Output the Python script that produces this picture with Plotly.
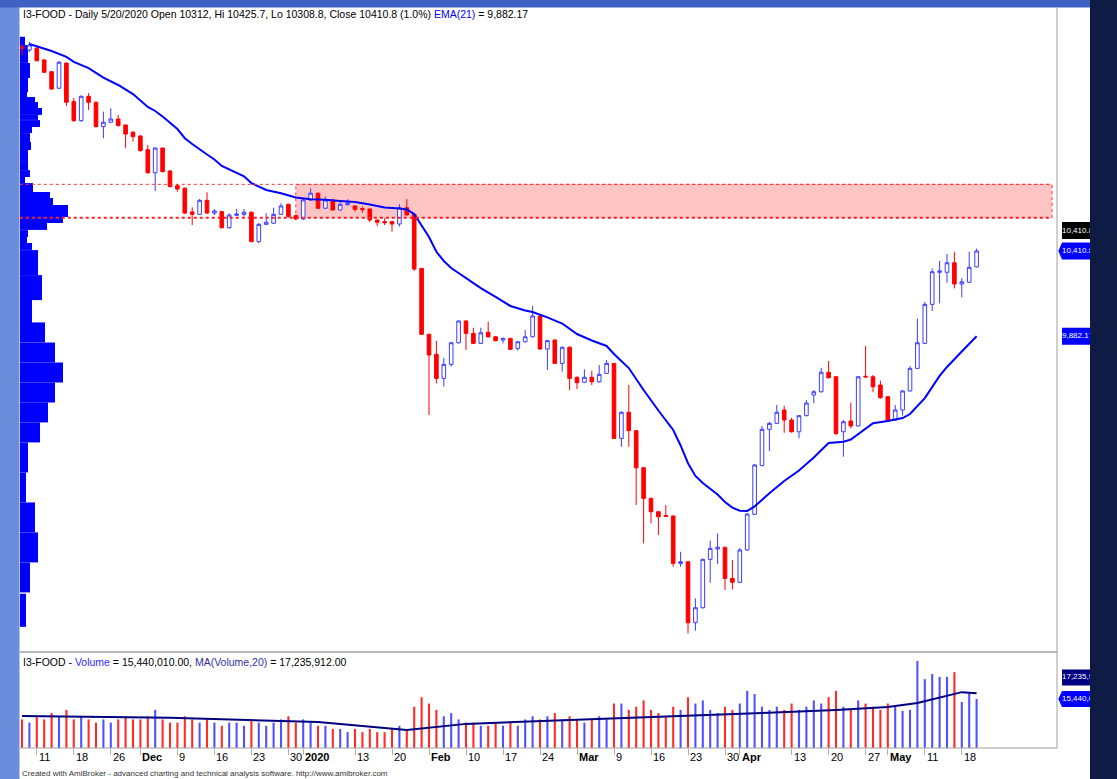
import plotly.graph_objects as go

W, H = 1117, 779

# ---------------- data ----------------
opens = [11676,11657,11668,11595,11522,11420,11576,11337,11219,11370,
11333,11182,11209,11229,11192,11147,11124,11039,10896,11049,
10907,10816,10800,10653,10638,10725,10646,10655,10555,10632,
10638,10651,10469,10576,10583,10638,10700,10630,10609,10727,
10769,10676,10727,10665,10698,10690,10674,10671,10603,10593,
10593,10578,10679,10638,10303,9894,9770,9621,9708,9842,
9977,9900,9838,9907,9879,9859,9869,9807,9848,9879,
10008,9803,9859,9714,9814,9628,9597,9628,9600,9652,
9714,9249,9411,9297,9067,8877,8794,8771,8768,8474,
8484,8106,8199,8499,8563,8574,8381,8357,8557,8778,
9080,9305,9342,9425,9363,9290,9390,9518,9538,9659,
9631,9290,9357,9326,9634,9631,9580,9507,9363,9425,
9543,9683,9838,10080,10279,10279,10338,10206,10217,10312]

highs = [11694,11707,11676,11601,11527,11589,11580,11359,11375,11389,
11338,11275,11296,11254,11195,11155,11127,11068,11053,11053,
10910,10826,10805,10682,10733,10775,10671,10659,10645,10671,
10671,10656,10584,10645,10679,10707,10705,10637,10733,10800,
10774,10748,10730,10721,10731,10693,10686,10674,10606,10614,
10597,10700,10733,10640,10305,9899,9853,9749,9847,9980,
9980,9935,9935,9972,9884,9874,9871,9853,9921,10070,
10011,9859,9862,9819,9819,9633,9677,9669,9704,9735,
9716,9416,9580,9301,9072,8882,8799,8836,8771,8546,
8489,8257,8504,8615,8660,8576,8495,8569,8786,9090,
9326,9352,9456,9452,9377,9394,9487,9549,9687,9729,
9636,9363,9470,9636,9822,9642,9607,9512,9456,9549,
9698,9993,10095,10303,10349,10392,10406,10243,10406,10425.7]

lows = [11626,11645,11586,11514,11409,11415,11310,11211,11211,11285,
11177,11110,11204,11183,11048,11089,11028,10891,10783,10898,
10805,10779,10640,10572,10634,10640,10634,10550,10550,10628,
10624,10464,10459,10572,10578,10634,10619,10603,10603,10721,
10671,10671,10662,10662,10693,10655,10648,10589,10566,10572,
10531,10562,10631,10287,9890,9394,9590,9570,9693,9837,
9797,9834,9834,9874,9850,9838,9797,9793,9843,9874,
9800,9673,9710,9662,9549,9555,9592,9580,9595,9648,
9245,9197,9197,8836,8598,8722,8650,8762,8453,8453,
8040,8057,8194,8354,8470,8309,8313,8352,8551,8774,
9078,9171,9338,9284,9285,9249,9385,9466,9533,9620,
9270,9135,9311,9323,9626,9535,9496,9360,9357,9390,
9540,9679,9834,10039,10086,10214,10179,10124,10212,10308.8]

closes = [11666,11688,11591,11519,11415,11581,11333,11219,11370,11333,
11182,11209,11229,11188,11136,11120,11033,10896,11049,10903,
10810,10795,10646,10638,10725,10646,10659,10555,10634,10640,
10651,10469,10576,10589,10638,10690,10624,10609,10727,10769,
10676,10727,10665,10700,10707,10669,10668,10603,10589,10586,
10578,10679,10634,10299,9894,9766,9621,9708,9842,9977,
9900,9838,9904,9879,9855,9869,9801,9848,9879,10008,
9803,9855,9714,9814,9621,9594,9628,9600,9646,9714,
9249,9411,9297,9067,8877,8794,8763,8765,8474,8484,
8106,8199,8499,8567,8574,8381,8357,8557,8780,9084,
9305,9342,9411,9363,9290,9390,9468,9538,9659,9625,
9280,9352,9326,9631,9630,9569,9501,9363,9425,9543,
9683,9842,10080,10282,10287,10338,10206,10220,10310,10410.8]

# volume in millions of shares
volumes = [9,8,10,9,11,10,12,9,10,9,8,9,8,9,10,9,
9,10,12,9,8,8,10,9,8,9,8,7,8,8,7,9,8,7,8,9,10,8,
9,8,7,7,6,6,5,6,5,6,5,5,6,7,6,
13,16,14,12,10,11,9,8,
8,7,7,8,7,8,7,9,10,9,10,11,9,10,9,8,9,10,9,
14,14,12,13,15,12,11,10,13,12,16,14,15,12,11,13,12,
14,18,17,13,12,13,12,14,12,13,15,14,16,18,13,12,15,14,13,12,14,13,
11.7,12.0,27.4,21.7,23.3,22.4,22.4,23.9,14.5,17.3,15.44]
last_volume_full = 15440010.00
last_vma_full = 17235912.00

ema_bars = [1,4,6,7,9,10,11,13,14,15,17,18,19,21,22,23,25,26,27,29,30,31,33,35,37,39,41,43,45,47,
            49,51,52,53,54,55,56,57,58,60,62,64,66,68,69,71,73,75,77,79,80,82,84,86,88,89,90,91,92,94,
            95,96,97,98,99,101,103,105,107,109,111,112,114,115,117,119,120,122,124,125,127,129]
ema_vals = [11694,11651,11614,11583,11545,11514,11486,11440,11412,11384,11304,11279,11245,11167,11110,
            11074,11009,10978,10938,10893,10874,10832,10789,10769,10742,10731,10729,10721,10715,10699,
            10680,10674,10668,10640,10572,10498,10406,10349,10305,10243,10181,10126,10070,10042,10033,
            9999,9961,9896,9856,9822,9772,9685,9549,9422,9301,9205,9095,9016,8972,8901,
            8855,8820,8801,8799,8827,8909,8985,9050,9131,9220,9228,9242,9313,9343,9357,9375,9400,9499,
            9636,9692,9788,9882.17]

vma_bars = [0, 20, 40, 52, 60, 75, 90, 100, 110, 117, 121, 125, 127, 129]
vma_vals = [10.1, 9.5, 8.2, 5.7, 7.6, 8.8, 10.1, 11.0, 12.0, 12.9, 14.2, 16.4, 17.6, 17.236]

tick_bars = [2,7,12,16,21,26,31,36,38,45,50,55,60,65,70,75,80,85,90,95,97,104,109,114,117,122,127]
tick_text = ["11","18","26","Dec","9","16","23","30","2020","13","20","Feb","10","17","24",
             "Mar","9","16","23","30","Apr","13","20","27","May","11","18"]
bold_ticks = ["Dec","2020","Feb","Mar","Apr","May"]

zone_low, zone_high = 10617, 10824
zone_start_bar, zone_end_bar = 37, 139.2

profile_price = [11713,11672,11617,11530,11440,11381,11350,11316,11276,11239,11201,11161,11114,11062,
                 11000,10938,10891,10851,10804,10758,10718,10674,10637,10603,10563,10519,10479,10439,
                 10339,10184,10014,9906,9782,9658,9534,9410,9286,9131,8945,8759,8573,8387,8183]
profile_height = [52,31,80,93,90,31,31,37,43,31,43,37,56,50,74,50,43,37,56,37,43,43,31,37,43,43,37,43,
                  155,155,186,124,124,124,124,124,124,186,186,186,186,186,205]
profile_len = [5,10,8,10,8,7,15,18,22,18,20,12,10,11,8,8,10,5,13,30,33,48,48,43,27,8,7,12,
               18,22,12,25,35,43,35,28,20,8,6,15,18,10,6]

# ---------------- layout helpers (pixel geometry) ----------------
X0, X1 = 20, 1057
PY0, PY1 = 8, 651
VY0, VY1 = 653, 748
def px(x): return x / W
def py(y): return 1 - y / H

FONT = "Liberation Sans, Arial, sans-serif"

bars = list(range(len(closes)))
fig = go.Figure()

# volume-at-price profile (base axis, drawn under candles)
fig.add_trace(go.Bar(x=profile_len, y=profile_price, width=profile_height, orientation='h',
                     marker=dict(color='#0000ff', line=dict(width=0)), xaxis='x', yaxis='y',
                     hoverinfo='skip'))

fig.add_trace(go.Candlestick(x=bars, open=opens, high=highs, low=lows, close=closes,
                             increasing=dict(line=dict(color='#3c3cff', width=1), fillcolor='white'),
                             decreasing=dict(line=dict(color='#ff0000', width=1), fillcolor='#ff0000'),
                             whiskerwidth=0, xaxis='x5', yaxis='y', hoverinfo='skip'))

fig.add_trace(go.Scatter(x=ema_bars, y=ema_vals, mode='lines', line=dict(color='#0000ff', width=2),
                         xaxis='x5', yaxis='y', hoverinfo='skip'))

vol_colors = ['#ff2a2a' if c < o else '#5050ff' for o, c in zip(opens, closes)]
fig.add_trace(go.Bar(x=bars, y=volumes, width=0.28, marker=dict(color=vol_colors, line=dict(width=0)),
                     xaxis='x2', yaxis='y2', hoverinfo='skip'))
fig.add_trace(go.Scatter(x=vma_bars, y=vma_vals, mode='lines', line=dict(color='#000080', width=2),
                         xaxis='x2', yaxis='y2', hoverinfo='skip'))

# ---- right-hand value tags (clipped at the frame) ----
price_range = [7930.8, 11917.4]
vol_range = [0, 29.93]
tag_h_price = 17 * (price_range[1] - price_range[0]) / (PY1 - PY0)
tag_h_vol = 16 * (vol_range[1] - vol_range[0]) / (VY1 - VY0)
last_close = closes[-1]
last_ema = ema_vals[-1]
last_vol = volumes[-1]

shapes = []
def tag(yref, v, h, color, arrow=False):
    if arrow:
        path = f"M 1.3,{v} L 5,{v + h/2} L 40,{v + h/2} L 40,{v - h/2} L 5,{v - h/2} Z"
    else:
        path = f"M 5,{v - h/2} L 40,{v - h/2} L 40,{v + h/2} L 5,{v + h/2} Z"
    shapes.append(dict(type='path', path=path, xref='x3', yref=yref, fillcolor=color,
                       line=dict(width=0), layer='below'))

black_v = last_close + 1.2 * tag_h_price
tag('y', black_v, tag_h_price, '#000000')
tag('y', last_close, tag_h_price, '#0000ff', arrow=True)
tag('y', last_ema, tag_h_price, '#0000ff')
vma_tag_v = last_vol + 1.35 * tag_h_vol
tag('y2', vma_tag_v, tag_h_vol, '#000080')
tag('y2', last_vol, tag_h_vol, '#0000ff', arrow=True)

fig.add_trace(go.Scatter(x=[5, 5, 5], y=[black_v, last_close, last_ema], mode='text',
                         text=[f"{last_close:,.1f}", f"{last_close:,.1f}", f"{last_ema:,.2f}"],
                         textposition='middle right', textfont=dict(color='white', size=8, family=FONT),
                         xaxis='x3', yaxis='y', cliponaxis=True, hoverinfo='skip'))
fig.add_trace(go.Scatter(x=[5, 5], y=[vma_tag_v, last_vol], mode='text',
                         text=[f"{last_vma_full:,.0f}", f"{last_volume_full:,.0f}"],
                         textposition='middle right', textfont=dict(color='white', size=8, family=FONT),
                         xaxis='x3', yaxis='y2', cliponaxis=True, hoverinfo='skip'))

# resistance zone
shapes.append(dict(type='rect', xref='x5', yref='y', x0=zone_start_bar, x1=zone_end_bar,
                   y0=zone_low, y1=zone_high, fillcolor='#ffc4c4', line=dict(color='#ff4040', width=1, dash='dot'),
                   layer='below'))
shapes.append(dict(type='line', xref='x5', yref='y', x0=-0.3, x1=zone_end_bar,
                   y0=zone_high, y1=zone_high, line=dict(color='#ff3030', width=1, dash='dot'), layer='above'))
shapes.append(dict(type='line', xref='x5', yref='y', x0=-0.3, x1=zone_end_bar, y0=zone_low, y1=zone_low,
                   line=dict(color='#ff2020', width=2, dash='dot'), layer='above'))

# panel lines
shapes += [
    dict(type='line', xref='paper', yref='paper', x0=px(X1), x1=px(X1), y0=py(VY1), y1=py(PY0),
         line=dict(color='#a0a0a0', width=1)),
    dict(type='line', xref='paper', yref='paper', x0=px(X0), x1=px(X1), y0=py(652), y1=py(652),
         line=dict(color='#a0a0a0', width=1.5)),
    dict(type='line', xref='paper', yref='paper', x0=px(X0), x1=px(X1), y0=py(VY1), y1=py(VY1),
         line=dict(color='#a0a0a0', width=1)),
]
# frame
shapes += [
    dict(type='rect', xref='paper', yref='paper', x0=0, x1=px(19.5), y0=0, y1=1,
         fillcolor='#6a8edb', line=dict(width=0), layer='above'),
    dict(type='rect', xref='paper', yref='paper', x0=0, x1=1, y0=py(7.5), y1=1,
         fillcolor='#3f62c2', line=dict(width=0), layer='above'),
    dict(type='rect', xref='paper', yref='paper', x0=px(1090), x1=1, y0=0, y1=1,
         fillcolor='#0d1b45', line=dict(width=0), layer='above'),
]

annotations = []
chg = (closes[-1] / closes[-2] - 1) * 100
title = (f"I3-FOOD - Daily 5/20/2020 Open {opens[-1]:g}, Hi {highs[-1]:g}, Lo {lows[-1]:g}, "
         f"Close {closes[-1]:g} ({chg:.1f}%) <span style='color:#0000ff'>EMA(21)</span> = {last_ema:,.2f}")
annotations.append(dict(text=title, xref='paper', yref='paper', x=px(21), y=py(14), xanchor='left',
                        yanchor='middle', showarrow=False, font=dict(size=10.5, family=FONT, color='black')))
vtitle = (f"I3-FOOD - <span style='color:#2b2bff'>Volume</span> = {last_volume_full:,.2f}, "
          f"<span style='color:#3030a0'>MA(Volume,20)</span> = {last_vma_full:,.2f}")
annotations.append(dict(text=vtitle, xref='paper', yref='paper', x=px(21), y=py(662), xanchor='left',
                        yanchor='middle', showarrow=False, font=dict(size=10.5, family=FONT, color='black')))
for b, t in zip(tick_bars, tick_text):
    txt = f"<b>{t}</b>" if t in bold_ticks else t
    annotations.append(dict(text=txt, xref='x2', yref='paper', x=b, y=py(757), xanchor='left', xshift=0,
                            yanchor='middle', showarrow=False, font=dict(size=11, family=FONT, color='black')))
annotations.append(dict(text="Created with AmiBroker - advanced charting and technical analysis software. http://www.amibroker.com",
                        xref='paper', yref='paper', x=px(20), y=py(773), xanchor='left', yanchor='middle',
                        showarrow=False, font=dict(size=8, family=FONT, color='#333333')))

bar_range = [(X0 - 22) / 7.4, (X1 - 22) / 7.4]
fig.update_layout(
    width=W, height=H, autosize=False, margin=dict(l=0, r=0, t=0, b=0),
    paper_bgcolor='white', plot_bgcolor='white', showlegend=False, hovermode=False,
    xaxis=dict(domain=[px(X0), px(X1)], range=[0, X1 - X0], visible=False, anchor='y', fixedrange=True),
    xaxis5=dict(domain=[px(X0), px(X1)], range=bar_range, visible=False, overlaying='x', anchor='y',
                rangeslider=dict(visible=False)),
    yaxis=dict(domain=[py(PY1), py(PY0)], range=price_range, visible=False, anchor='x'),
    xaxis2=dict(domain=[px(X0), px(X1)], range=bar_range, anchor='y2', showgrid=False, zeroline=False,
                showline=False, tickvals=tick_bars, ticktext=['' for _ in tick_bars], ticks='outside',
                ticklen=6, tickcolor='#b0b0b0', showticklabels=False),
    yaxis2=dict(domain=[py(VY1), py(VY0)], range=vol_range, visible=False, anchor='x2'),
    xaxis3=dict(domain=[px(X1), px(1090)], range=[0, 1090 - X1], visible=False, anchor='y'),
    shapes=shapes, annotations=annotations,
)
fig.write_html("out.html", config={'displayModeBar': False},
               post_script="document.body.style.margin='0px';document.body.style.padding='0px';"
                           "document.body.style.overflow='hidden';")
